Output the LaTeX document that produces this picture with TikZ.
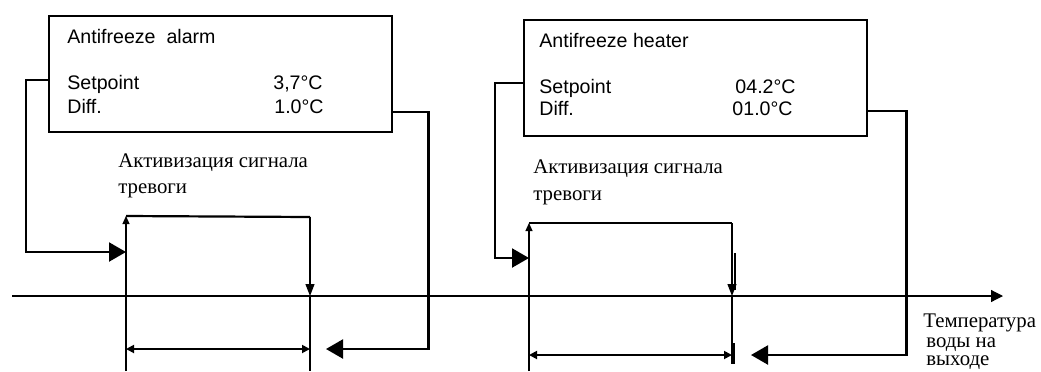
\documentclass[tikz,border=0pt]{standalone}
\usepackage{fontspec}
\setmainfont{Liberation Serif}
\newfontfamily\panelfont{Liberation Sans}
\usetikzlibrary{
  positioning,
  arrows.meta
}

\begin{document}
\begin{tikzpicture}[
  x=0.5pt, y=-0.5pt,
  panel/.style={draw, line width=1.2pt, minimum width=171.5pt, minimum height=58pt,
                anchor=north west, inner sep=0pt},
  ptxt/.style={font=\panelfont\fontsize{9.8}{11}\selectfont, anchor=base west, inner sep=0pt},
  pval/.style={ptxt, anchor=base east},
  note/.style={font=\fontsize{10.4}{13}\selectfont, anchor=base west, inner sep=0pt},
  wire/.style={line width=1.1pt},
  fine/.style={line width=0.6pt},
  feed/.style={wire, -{Triangle[length=8.5pt, width=9.5pt]}},
  rise/.style={fine, -{Triangle[length=4pt, width=3.5pt]}},
  fall/.style={fine, -{Triangle[length=6pt, width=4.5pt]}},
  span/.style={line width=0.9pt, {Triangle[length=4pt, width=4pt]}-{Triangle[length=4pt, width=4pt]}},
  axis/.style={fine, -{Triangle[length=6pt, width=6pt]}}
]
  \useasboundingbox (0,0) rectangle (1041,371);

  % alarm panel
  \node[panel] (alarmbox) at (48,15) {};
  \node[ptxt] (alarmtitle) at (67,43) {Antifreeze\ \ alarm};
  \node[ptxt] (alarmsp) at (67,89) {Setpoint};
  \node[ptxt] (alarmdf) at (67,113) {Diff.};
  \node[pval] (alarmspv) at (323,89) {3,7\textdegree C};
  \node[pval] (alarmdfv) at (324,113) {1.0\textdegree C};
  \node[note] (alarmnote) at (118,167) {Активизация сигнала};
  \node[note] (alarmnote2) at (118,193) {тревоги};

  % heater panel
  \node[panel] (heaterbox) at (523,19) {};
  \node[ptxt] (heatertitle) at (539,47) {Antifreeze heater};
  \node[ptxt] (heatersp) at (539,93) {Setpoint};
  \node[ptxt] (heaterdf) at (539,115) {Diff.};
  \node[pval] (heaterspv) at (796,93) {04.2\textdegree C};
  \node[pval] (heaterdfv) at (793,115) {01.0\textdegree C};
  \node[note] (heaternote) at (533,173) {Активизация сигнала};
  \node[note] (heaternote2) at (533,200) {тревоги};

  % axis label
  \node[note] (templabel) at (923,327) {Температура};
  \node[note] (templabel2) at (926,347) {воды на};
  \node[note] (templabel3) at (926,365) {выходе};

  % temperature axis
  \coordinate (axL) at (12,296);
  \coordinate (axM) at (665,296);
  \coordinate (axR) at (1003,296);
  \draw[wire] (axL) -- (axM);
  \draw[axis] (axM) -- (axR);

  % alarm hysteresis
  \coordinate (aOn) at (126,252);
  \coordinate (aOff) at (326,349);
  \coordinate (aLow) at (126,371);
  \coordinate (aTop) at (126,216);
  \coordinate (aTopR) at (310,217);
  \coordinate (aAx) at (310,296);
  \coordinate (aBot) at (310,371);
  \draw[rise] (aLow) -- (aTop);
  \draw[wire] (aTop) -- (aTopR);
  \draw[fall] (aTopR) -- (aAx);
  \draw[wire] (aAx) -- (aBot);
  \draw[span] (aOn |- aOff) -- (aAx |- aOff);
  \draw[feed] ([yshift=-3pt]alarmbox.west) -- ++(-22,0) |- (aOn);
  \draw[feed] ([yshift=-19pt]alarmbox.east) -- ++(35,0) |- (aOff);

  % heater hysteresis
  \coordinate (hOn) at (529,258);
  \coordinate (hOff) at (751,355);
  \coordinate (hLow) at (529,371);
  \coordinate (hTop) at (529,223);
  \coordinate (hTopR) at (732,223);
  \coordinate (hAx) at (732,296);
  \coordinate (hBot) at (732,364);
  \draw[rise] (hLow) -- (hTop);
  \draw[fine] (hTop) -- (hTopR);
  \draw[fall] (hTopR) -- (hAx);
  \draw[wire] (735,253) -- (735,290);
  \draw[fine] (hAx) -- (hBot);
  \draw[wire] (734,343) -- (734,364);
  \draw[span] (hOn |- hOff) -- (hAx |- hOff);
  \draw[feed] ([yshift=-2.5pt]heaterbox.west) -- ++(-28,0) |- (hOn);
  \draw[feed] ([yshift=-16.5pt]heaterbox.east) -- ++(38,0) |- (hOff);
\end{tikzpicture}
\end{document}
